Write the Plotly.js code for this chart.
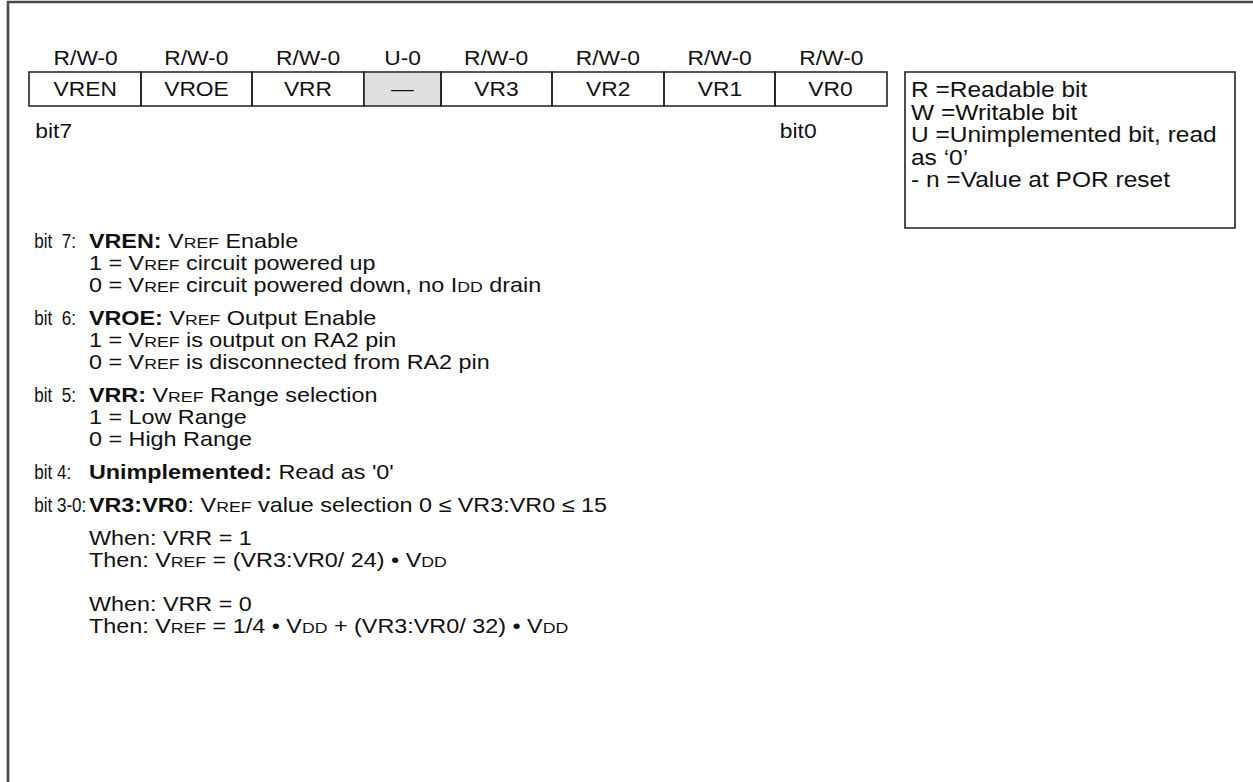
<!DOCTYPE html>
<html>
<head>
<meta charset="utf-8">
<script src="https://cdn.plot.ly/plotly-3.0.1.min.js"></script>
<style>
html,body{margin:0;padding:0;background:#fff;overflow:hidden;}
#wrap{width:1253px;height:782px;overflow:hidden;}
#chart{transform-origin:0 0;}
</style>
</head>
<body>
<div id="wrap"><div id="chart"></div></div>
<script>
// ---- data ----
const accessLabels = ['R/W-0','R/W-0','R/W-0','U-0','R/W-0','R/W-0','R/W-0','R/W-0'];
const bitNames = ['VREN','VROE','VRR','\u2014','VR3','VR2','VR1','VR0'];
const implemented = [true,true,true,false,true,true,true,true];
const edgeLabels = ['bit7','bit0'];
const legendLines = ['R =Readable bit','W =Writable bit','U =Unimplemented bit, read','as \u20180\u2019','- n =Value at POR reset'];

const sc = s => '<span style="font-size:15.5px">' + s + '</span>';
const VREF = 'V' + sc('REF');
const VDD = 'V' + sc('DD');
const IDD = 'I' + sc('DD');

const bitLabels = ['bit \u00a07:','bit \u00a06:','bit \u00a05:','bit 4:','bit 3-0:'];
const fieldNames = ['VREN:','VROE:','VRR:','Unimplemented:','VR3:VR0'];
const fieldTitles = [
  ' ' + VREF + ' Enable',
  ' ' + VREF + ' Output Enable',
  ' ' + VREF + ' Range selection',
  ' Read as \'0\'',
  ': ' + VREF + ' value selection 0 \u2264 VR3:VR0 \u2264 15'
];
const fieldLines = [
  ['1 = ' + VREF + ' circuit powered up', '0 = ' + VREF + ' circuit powered down, no ' + IDD + ' drain'],
  ['1 = ' + VREF + ' is output on RA2 pin', '0 = ' + VREF + ' is disconnected from RA2 pin'],
  ['1 = Low Range', '0 = High Range'],
  [],
  []
];
const formulaLines = [
  'When: VRR = 1',
  'Then: ' + VREF + ' = (VR3:VR0/ 24) \u2022 ' + VDD,
  '',
  'When: VRR = 0',
  'Then: ' + VREF + ' = 1/4 \u2022 ' + VDD + ' + (VR3:VR0/ 32) \u2022 ' + VDD
];

// ---- layout constants ----
const W = 1253, H = 782;
const STRETCH = 1.14;                 // horizontal stretch of the reference rendering
const FONT = 'Liberation Sans, Arial, sans-serif';
const FS_TOP = 20, FS_LEG = 21.5, FS_TXT = 20.5, FS_BIT = 20.5;
const BIT_SQUEEZE = 0.73;
const cellWidths = [112,111,112,77,111,112,111,112];
const regLeft = 29, regTop = 72, regBottom = 106;
const lineH = 22, groupGap = 33;

const shapes = [];
const annotations = [];
const squeezeIdx = [];
function txt(x, y, text, size, opts) {
  annotations.push(Object.assign({
    x: x, y: y, xref: 'x', yref: 'y', text: text, showarrow: false,
    xanchor: 'left', yanchor: 'middle', align: 'left',
    font: {family: FONT, size: size, color: '#111'}
  }, opts || {}));
  return annotations.length - 1;
}

// outer frame (open at right and bottom)
shapes.push({type: 'path', path: 'M 8 800 L 8 2 L 1270 2', xref: 'x', yref: 'y',
  line: {color: '#4a4a4a', width: 2.3}});

// register cells
let cx = regLeft;
bitNames.forEach((name, i) => {
  const w = cellWidths[i];
  shapes.push({type: 'rect', xref: 'x', yref: 'y', x0: cx, x1: cx + w, y0: regTop, y1: regBottom,
    fillcolor: implemented[i] ? 'rgba(0,0,0,0)' : '#e0e0e0',
    line: {color: '#222', width: 1.4}, layer: 'below'});
  txt(cx + w / 2, (regTop + regBottom) / 2, name, FS_TOP, {xanchor: 'center', align: 'center'});
  txt(cx + w / 2, 58, accessLabels[i], FS_TOP, {xanchor: 'center', align: 'center'});
  cx += w;
});
txt(33, 131, edgeLabels[0], FS_TOP);
txt(778, 131, edgeLabels[1], FS_TOP);

// legend box
shapes.push({type: 'rect', xref: 'x', yref: 'y', x0: 905, x1: 1235, y0: 72, y1: 228,
  line: {color: '#222', width: 1.4}, fillcolor: 'rgba(0,0,0,0)'});
legendLines.forEach((t, i) => txt(909, 90 + i * 22.5, t, FS_LEG));

// bit descriptions
let y = 240;
bitLabels.forEach((b, i) => {
  squeezeIdx.push(txt(32, y, b, FS_BIT));
  txt(87, y, '<b>' + fieldNames[i] + '</b>' + fieldTitles[i], FS_TXT);
  fieldLines[i].forEach((l, j) => txt(87, y + (j + 1) * lineH, l, FS_TXT));
  y += fieldLines[i].length * lineH + groupGap;
});
formulaLines.forEach((l, j) => { if (l) txt(87, y + j * lineH, l, FS_TXT); });

const layout = {
  width: Math.round(W / STRETCH), height: H,
  margin: {l: 0, r: 0, t: 0, b: 0},
  paper_bgcolor: '#fff', plot_bgcolor: '#fff',
  xaxis: {range: [0, W], visible: false, fixedrange: true},
  yaxis: {range: [H, 0], visible: false, fixedrange: true},
  showlegend: false,
  shapes: shapes,
  annotations: annotations
};
document.getElementById('chart').style.transform = 'scaleX(' + (W / Math.round(W / STRETCH)) + ')';
Plotly.newPlot('chart', [], layout, {displayModeBar: false, staticPlot: true}).then(gd => {
  // the bit labels are set narrower in the reference: condense them about their left edge
  squeezeIdx.forEach(i => {
    const t = gd.querySelector('g.annotation[data-index="' + i + '"] text.annotation-text');
    if (!t) return;
    const bb = t.getBBox();
    t.setAttribute('transform', 'translate(' + (bb.x * (1 - BIT_SQUEEZE)) + ',0) scale(' + BIT_SQUEEZE + ',1)');
  });
});
</script>
</body>
</html>
